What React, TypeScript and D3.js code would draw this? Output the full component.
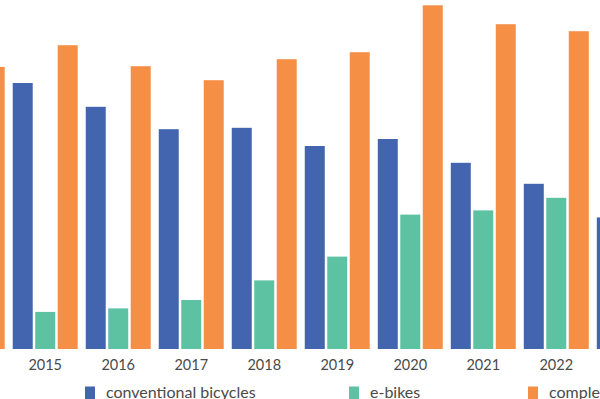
import React from "react";
import * as d3 from "d3";

const years = ["2014", "2015", "2016", "2017", "2018", "2019", "2020", "2021", "2022", "2023"];
const conventional = [3.55, 3.8, 3.46, 3.14, 3.16, 2.9, 3.0, 2.66, 2.36, 1.88];
const ebikes = [0.48, 0.53, 0.58, 0.7, 0.98, 1.32, 1.92, 1.98, 2.16, 2.1];
const complete = [4.03, 4.34, 4.04, 3.84, 4.14, 4.24, 4.91, 4.64, 4.54, 4.0];
const seriesNames = ["conventional bicycles", "e-bikes", "complete bicycles"];
const colors = ["#4365b0", "#5dc2a1", "#f68f46"];

const W = 600;
const H = 399;
const baseline = 349;

export default function App() {
  const x = d3
    .scaleBand<string>()
    .domain(years)
    .range([-64.3, 665.8])
    .paddingInner(0.11)
    .paddingOuter(0.055);
  const xi = d3
    .scaleBand<number>()
    .domain([0, 1, 2])
    .range([0, x.bandwidth()])
    .paddingInner(0.111);
  const y = d3.scaleLinear().domain([0, 5]).range([baseline, baseline - 350]);
  const series = [conventional, ebikes, complete];
  const legendX = [85, 349, 528];

  return (
    <svg
      width={W}
      height={H}
      style={{ position: "absolute", left: 0, top: 0, background: "#fff" }}
      fontFamily="Lato, 'Open Sans', sans-serif"
    >
      <rect width={W} height={H} fill="#fff" />
      {years.map((yr, i) => {
        const cx = (x(yr) as number) + x.bandwidth() / 2;
        return (
          <g key={yr} transform={`translate(${x(yr)},0)`}>
            {series.map((s, j) => (
              <rect
                key={j}
                x={xi(j)}
                y={y(s[i])}
                width={xi.bandwidth()}
                height={baseline - y(s[i])}
                fill={colors[j]}
              />
            ))}
            {cx > 0 && cx < W ? (
              <text
                x={x.bandwidth() / 2}
                y={369.5}
                textAnchor="middle"
                fontSize={14.5}
                fill="#4a4a4a"
              >
                {yr}
              </text>
            ) : null}
          </g>
        );
      })}
      {seriesNames.map((n, j) => (
        <g key={n}>
          <rect x={legendX[j]} y={386.5} width={10} height={14} fill={colors[j]} />
          <text x={legendX[j] + 21} y={397.5} fontSize={16} fill="#4a4a4a">
            {n}
          </text>
        </g>
      ))}
    </svg>
  );
}
